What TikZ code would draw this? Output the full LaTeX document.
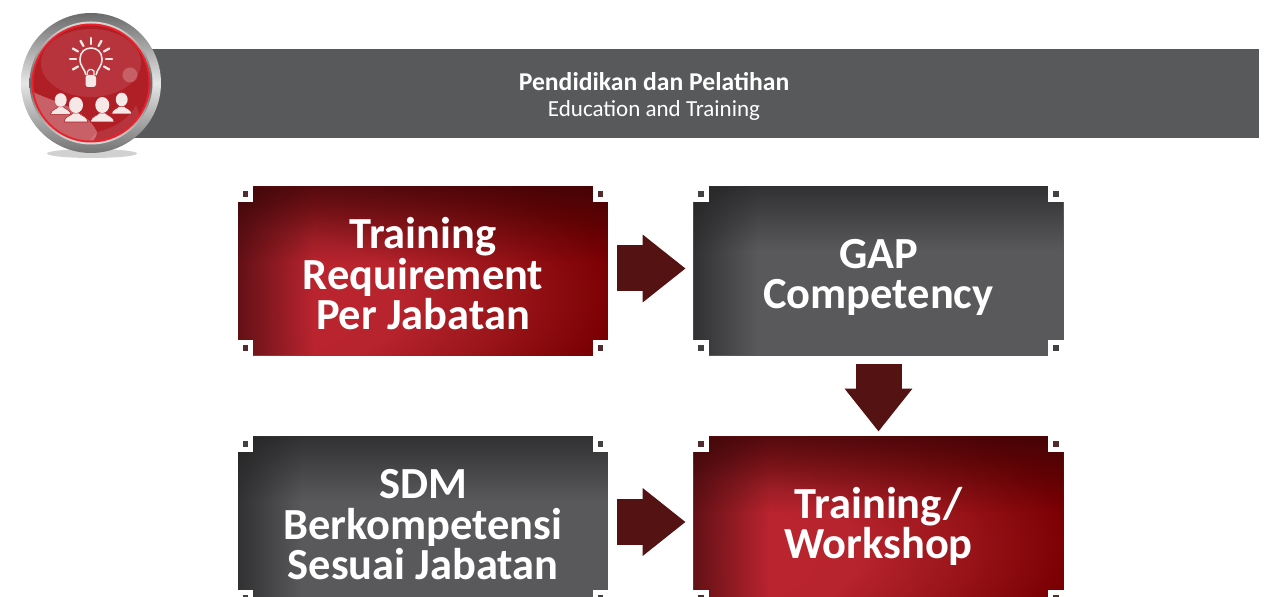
\documentclass[tikz,border=0pt]{standalone}
\usepackage{fontspec}
\setmainfont{Carlito}
\usetikzlibrary{arrows.meta, positioning, calc, backgrounds, fadings}

\definecolor{BandGrey}{RGB}{88, 89, 91}
\definecolor{ArrowRed}{RGB}{84, 18, 19}
\definecolor{CoreRed}{RGB}{176, 30, 38}
\definecolor{RimRed}{RGB}{238, 32, 42}
\definecolor{BustWhite}{RGB}{247, 232, 232}
\definecolor{EdgeRed}{RGB}{50, 6, 8}
\definecolor{EdgeGrey}{RGB}{32, 32, 33}

\pgfdeclareradialshading{redglow}{\pgfpoint{-32bp}{-12bp}}{%
  rgb(0bp)=(0.74,0.14,0.19);
  rgb(22bp)=(0.72,0.14,0.18);
  rgb(33bp)=(0.60,0.08,0.10);
  rgb(44bp)=(0.48,0,0.01);
  rgb(56bp)=(0.36,0,0);
  rgb(72bp)=(0.20,0,0);
  rgb(100bp)=(0.20,0,0)}
\pgfdeclareradialshading{greyglow}{\pgfpoint{-5bp}{-14bp}}{%
  rgb(0bp)=(0.35,0.35,0.36);
  rgb(56bp)=(0.35,0.35,0.36);
  rgb(74bp)=(0.18,0.18,0.18);
  rgb(100bp)=(0.16,0.16,0.16)}

\tikzset{
  flowbox/.style={minimum width=369*0.02cm, minimum height=167.5*0.02cm, inner sep=0pt,
    align=center, text=white, font=\fontsize{25.3}{23.1}\selectfont\bfseries},
  threeline/.style={text height=66.9pt, text depth=0pt},
  twoline/.style={text height=43.2pt, text depth=0pt},
  bigarrow/.style={-{Triangle[length=43*0.02cm, width=65*0.02cm]}, ArrowRed, line width=46*0.02cm},
  bust/.pic={
    \fill[BustWhite, draw=CoreRed, line width=0.3pt] (-12,17) .. controls (-11,11) and (-5,11) .. (-3,8) -- (3,8) .. controls (5,11) and (11,11) .. (12,17) -- cycle;
    \fill[BustWhite] (0,0) ellipse (7 and 8);
  }
}

% panel behind a box: #2 shading, #3 edge colour, #4 edge strength, #5 edge reach; then the white corner cuts
\newcommand{\boxpanel}[5]{
  \shade[shading=#2] (#1.north west) rectangle (#1.south east);
  \begin{scope}
    \clip (#1.north west) rectangle (#1.south east);
    \fill[#3, opacity=#4, path fading=east] ($(#1.north west)+(-#5/2,0)$) rectangle ($(#1.south west)+(1.5*#5,0)$);
    \fill[#3, opacity=#4, path fading=south] ($(#1.north west)+(0,-#5/2)$) rectangle ($(#1.north east)+(0,1.5*#5)$);
  \end{scope}
  \foreach \cornerpos/\sx/\sy in {north west/1/1, north east/-1/1, south west/1/-1, south east/-1/-1} {
    \fill[white] ($(#1.\cornerpos)+(-3*\sx,-3*\sy)$) rectangle ($(#1.\cornerpos)+(15*\sx,15*\sy)$);
    \fill[#3!85!white] ($(#1.\cornerpos)+(4.5*\sx,4.5*\sy)$) rectangle ++(5.5*\sx,5.5*\sy);
  }
}

\begin{document}
\begin{tikzpicture}[x=0.02cm, y=-0.02cm]
  \useasboundingbox (0,0) rectangle (1274,597);

  % Header band
  \node[fill=BandGrey, minimum width=1210*0.02cm, minimum height=89*0.02cm, inner sep=0pt, text=white, align=center, text height=26.6pt, text depth=0pt] (band) at (654,93.5)
    {{\fontsize{14.6}{15}\selectfont\bfseries Pendidikan dan Pelatihan}\\[3.1pt]{\fontsize{13.1}{15}\selectfont Education and Training}};

  % Badge
  \fill[black!18] (92,153.5) ellipse (45 and 4.5);
  \shade[top color=black!58, bottom color=black!55, middle color=black!10] (91,83) circle (70);
  \shade[top color=black!15, bottom color=black!15, middle color=black!60] (91,83) circle (61.5);
  \fill[RimRed] (91,83) circle (59.5);
  \fill[CoreRed] (91,83) circle (57.5);
  \begin{scope}
    \clip (91,83) circle (57.5);
    \fill[white, opacity=0.10] (91,63) ellipse (50 and 34);
    \fill[white, opacity=0.30] (32,91) .. controls (45,100) and (85,106) .. (97,132) .. controls (96,140) and (92,142) .. (85,145) -- (30,145) -- cycle;
    \fill[white, opacity=0.10] (97,132) .. controls (115,128) and (130,118) .. (136,105) -- (150,145) -- (85,145) -- cycle;
  \end{scope}
  \fill[white, opacity=0.22] (130,75) circle (7.5);

  % Bulb
  \foreach \ang in {-210,-180,...,30}
    \draw[BustWhite, line width=1.3pt, line cap=round] ($(91,59)+(\ang:15)$) -- ($(91,59)+(\ang:21)$);
  \draw[BustWhite, line width=0.9pt] (86,75) .. controls (85,69) and (80,67) .. (80,59) .. controls (80,52) and (85,48) .. (91,48) .. controls (97,48) and (102,52) .. (102,59) .. controls (102,67) and (97,69) .. (96,75);
  \draw[BustWhite, line width=0.7pt] (87,75) .. controls (87,69) and (91,68) .. (94,71) -- (94,75);
  \fill[BustWhite, rounded corners=1.5pt] (85.5,75) rectangle (96,87);

  % People
  \path (60.7,100) pic[scale=0.85] {bust};
  \path (121.7,99.5) pic[scale=0.85] {bust};
  \path (76,105) pic {bust};
  \path (102.3,105) pic {bust};

  % Boxes
  \node[flowbox, threeline] (training) at (423,271) {Training\\Requirement\\Per Jabatan};
  \node[flowbox, twoline] (gap) at (878.5,271) {GAP\\Competency};
  \node[flowbox, threeline] (sdm) at (423,521) {SDM\\Berkompetensi\\Sesuai Jabatan};
  \node[flowbox, twoline] (workshop) at (878.5,521) {Training/\\Workshop};

  \begin{scope}[on background layer]
    \boxpanel{training}{redglow}{EdgeRed}{0.85}{50}
    \boxpanel{gap}{greyglow}{EdgeGrey}{0.92}{42}
    \boxpanel{sdm}{greyglow}{EdgeGrey}{0.92}{42}
    \boxpanel{workshop}{redglow}{EdgeRed}{0.85}{50}
  \end{scope}

  % Arrows
  \draw[bigarrow, shorten <=9*0.02cm, shorten >=8*0.02cm] ($(training.east)+(0,-2.5)$) -- ($(gap.west)+(0,-2.5)$);
  \draw[bigarrow, shorten <=9*0.02cm, shorten >=5.3*0.02cm] (gap.south) -- (workshop.north);
  \draw[bigarrow, shorten <=9*0.02cm, shorten >=8*0.02cm] ($(sdm.east)+(0,1)$) -- ($(workshop.west)+(0,1)$);
\end{tikzpicture}
\end{document}
